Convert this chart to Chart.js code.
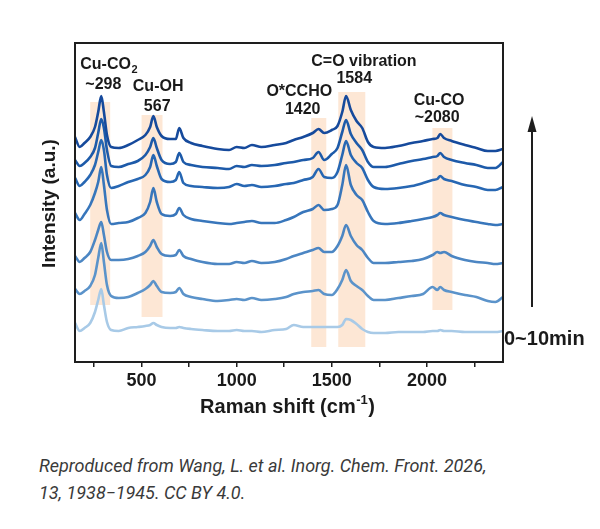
<!DOCTYPE html>
<html>
<head>
<meta charset="utf-8">
<script src="https://cdn.jsdelivr.net/npm/chart.js@4.4.1/dist/chart.umd.min.js"></script>
<style>
  html, body { margin: 0; padding: 0; background: #ffffff; }
  #wrap { position: absolute; left: 0; top: 0; width: 600px; height: 440px; }
  #caption {
    position: absolute; left: 39px; top: 452px; width: 470px;
    font-family: Roboto, "Noto Sans", sans-serif; font-style: italic;
    font-size: 18px; line-height: 27px; color: #3a3a3a;
  }
</style>
</head>
<body>
<div id="wrap"><canvas id="c" width="600" height="440"></canvas></div>
<div id="caption">Reproduced from Wang, L. et al. Inorg. Chem. Front. 2026, 13, 1938−1945. CC BY 4.0.</div>
<script>
// Raman shift grid (cm^-1)
const wavenumbers = [150,175,200,230,255,272,288,302,318,340,380,430,480,520,545,562,580,605,650,680,698,720,760,820,900,960,1000,1040,1080,1130,1200,1260,1300,1350,1400,1430,1460,1500,1530,1555,1575,1600,1630,1660,1690,1720,1780,1850,1920,1980,2030,2055,2070,2090,2130,2200,2260,2320,2360,2400];

// Intensity (a.u., stacked) from top (latest) to bottom (0 min)
const spectrum1 = [225,215,219,225,235,250,266,250,227,215, 214,217,222,227,235,246,235,226,223,223, 234,224,219,216,213,212,215,214,217,215, 217,219,222,225,229,233,229,232,236,250, 266,252,241,234,220,215,214,216,219,221, 223,224,228,224,221,217,214,211,211,213];
const spectrum2 = [202,196,199,205,214,229,243,234,212,196, 195,198,201,207,215,224,214,202,198,200, 209,200,197,195,194,193,196,195,197,196, 197,199,200,202,204,210,202,208,214,230, 242,228,219,212,200,195,195,198,201,203, 205,206,209,205,202,199,197,194,194,200];
const spectrum3 = [184,176,180,187,197,210,222,212,187,174, 176,180,183,187,195,207,196,183,180,182, 190,179,176,175,174,175,178,176,177,175, 176,178,179,182,185,193,185,184,190,207, 221,207,199,194,182,175,173,174,176,179, 182,183,186,183,181,177,175,172,172,175];
const spectrum4 = [149,142,148,157,169,180,195,177,152,138, 139,140,144,149,160,174,160,148,146,148, 154,147,143,141,139,138,139,140,141,139, 139,142,145,150,153,157,152,153,157,177, 197,177,167,162,150,141,138,139,141,143, 145,147,149,147,145,142,140,138,137,138];
const spectrum5 = [106,100,104,110,122,132,140,127,110,102, 102,103,106,110,116,122,115,108,106,107, 112,106,103,100,98,98,100,99,101,99, 100,103,106,109,112,114,110,110,116,126, 137,126,117,112,104,99,99,100,101,103, 107,110,109,110,106,102,100,99,98,99];
const spectrum6 = [73,68,71,76,87,104,119,100,77,66, 64,65,69,73,77,81,76,70,69,70, 74,68,65,63,61,62,63,62,64,62, 63,65,68,70,71,72,68,67,73,82, 92,81,76,72,66,62,62,64,66,68, 75,72,75,72,70,67,65,61,60,65];
const spectrum7 = [39,31,34,39,50,62,73,57,40,32, 31,34,35,36,37,39,37,35,34,34, 35,34,33,32,31,31,32,31,31,30, 32,33,37,35,35,35,35,35,35,37, 43,42,38,33,30,29,29,30,30,30, 31,31,32,31,31,30,30,30,30,31];

// x-axis ticks
const tickValues = [250,500,750,1000,1250,1500,1750,2000,2250];
const tickLabels = ['', '500', '', '1000', '', '1500', '', '2000', ''];

// highlighted band ranges (cm^-1) and vertical extents (a.u.)
const bandStart = [230, 500, 1392, 1534, 2029];
const bandEnd   = [335, 610, 1471, 1676, 2134];
const bandLow   = [57, 45, 15, 15, 52];
const bandHigh  = [260, 247, 244, 270, 234];

// peak annotations
const peakText = ['Cu-CO', '~298', 'Cu-OH', '567', 'O*CCHO', '1420', 'C=O vibration', '1584', 'Cu-CO', '~2080'];
const peakSub  = ['2', '', '', '', '', '', '', '', '', ''];
const peakX    = [327, 299, 587, 582, 1329, 1347, 1669, 1618, 2064, 2054];
const peakY    = [297, 277, 275, 255, 270, 252, 300, 283, 261, 244];

const series = [spectrum1, spectrum2, spectrum3, spectrum4, spectrum5, spectrum6, spectrum7];
const colors = ['#164a9c', '#1d5aa9', '#2767b3', '#3876bb', '#4c86c3', '#5b93ca', '#a8cae7'];

const datasets = series.map((s, i) => ({
  data: s.map((v, k) => ({ x: wavenumbers[k], y: v })),
  borderColor: colors[i],
  borderWidth: 2.6,
  pointRadius: 0,
  cubicInterpolationMode: 'monotone',
  fill: false
}));

const FONT = '"Liberation Sans", Arial, sans-serif';

const decor = {
  id: 'decor',
  beforeDatasetsDraw(chart) {
    const { ctx, scales: { x, y } } = chart;
    ctx.save();
    ctx.fillStyle = '#fde7d5';
    for (let i = 0; i < bandStart.length; i++) {
      const x0 = x.getPixelForValue(bandStart[i]);
      const x1 = x.getPixelForValue(bandEnd[i]);
      const y0 = y.getPixelForValue(bandHigh[i]);
      const y1 = y.getPixelForValue(bandLow[i]);
      ctx.fillRect(x0, y0, x1 - x0, y1 - y0);
    }
    ctx.restore();
  },
  afterDraw(chart) {
    const { ctx, chartArea: a, scales: { x, y } } = chart;
    ctx.save();
    // frame
    ctx.strokeStyle = '#1e1e1e';
    ctx.lineWidth = 2;
    ctx.strokeRect(a.left, a.top, a.right - a.left, a.bottom - a.top);

    // peak labels
    ctx.fillStyle = '#1a1a1a';
    ctx.textBaseline = 'middle';
    for (let i = 0; i < peakText.length; i++) {
      const cx = x.getPixelForValue(peakX[i]);
      const cy = y.getPixelForValue(peakY[i]);
      ctx.font = 'bold 16px ' + FONT;
      const w = ctx.measureText(peakText[i]).width;
      let ws = 0;
      if (peakSub[i]) { ctx.font = 'bold 11px ' + FONT; ws = ctx.measureText(peakSub[i]).width; }
      const start = cx - (w + ws) / 2;
      ctx.textAlign = 'left';
      ctx.font = 'bold 16px ' + FONT;
      ctx.fillText(peakText[i], start, cy);
      if (peakSub[i]) { ctx.font = 'bold 11px ' + FONT; ctx.fillText(peakSub[i], start + w + 0.5, cy + 5); }
    }

    // y title
    ctx.save();
    ctx.translate(a.left - 25, (a.top + a.bottom) / 2 + 1);
    ctx.rotate(-Math.PI / 2);
    ctx.textAlign = 'center';
    ctx.font = 'bold 19px ' + FONT;
    ctx.fillText('Intensity (a.u.)', 0, 0);
    ctx.restore();

    // x title with superscript
    const main = 'Raman shift (cm', sup = '-1', tail = ')';
    ctx.font = 'bold 20px ' + FONT;
    const wm = ctx.measureText(main).width, wt = ctx.measureText(tail).width;
    ctx.font = 'bold 13px ' + FONT;
    const wsup = ctx.measureText(sup).width;
    let sx = (a.left + a.right) / 2 - 2 - (wm + wsup + wt) / 2;
    const ty = a.bottom + 45;
    ctx.textAlign = 'left';
    ctx.font = 'bold 20px ' + FONT;
    ctx.fillText(main, sx, ty);
    ctx.font = 'bold 13px ' + FONT;
    ctx.fillText(sup, sx + wm + 0.5, ty - 7);
    ctx.font = 'bold 20px ' + FONT;
    ctx.fillText(tail, sx + wm + wsup + 1, ty);

    // time label and arrow
    ctx.font = 'bold 20px ' + FONT;
    ctx.fillText('0~10min', a.right + 1, a.bottom - 23);
    const ax = a.right + 29;
    ctx.strokeStyle = '#1e1e1e';
    ctx.lineWidth = 2;
    ctx.beginPath();
    ctx.moveTo(ax, a.bottom - 55);
    ctx.lineTo(ax, a.top + 85);
    ctx.stroke();
    ctx.fillStyle = '#1e1e1e';
    ctx.beginPath();
    ctx.moveTo(ax, a.top + 73);
    ctx.lineTo(ax - 4.5, a.top + 89);
    ctx.lineTo(ax + 4.5, a.top + 89);
    ctx.closePath();
    ctx.fill();
    ctx.restore();
  }
};

new Chart(document.getElementById('c'), {
  type: 'line',
  data: { datasets },
  plugins: [decor],
  options: {
    responsive: false,
    animation: false,
    layout: { padding: { left: 75, right: 97, top: 43, bottom: 48 } },
    plugins: { legend: { display: false }, tooltip: { enabled: false } },
    scales: {
      x: {
        type: 'linear',
        min: 150, max: 2400,
        afterBuildTicks: (s) => { s.ticks = tickValues.map(v => ({ value: v })); },
        afterFit: (s) => { s.height = 30; },
        grid: { drawOnChartArea: false, drawTicks: true, tickLength: 5, color: '#1e1e1e', lineWidth: 1.5 },
        border: { display: true, color: '#1e1e1e', width: 2 },
        ticks: {
          autoSkip: false, maxRotation: 0, padding: 3, color: '#1a1a1a',
          font: { family: FONT, size: 18, weight: 'bold' },
          callback: (v) => { const i = tickValues.indexOf(v); return i >= 0 ? tickLabels[i] : ''; }
        }
      },
      y: { display: false, min: 0, max: 319 }
    }
  }
});
</script>
</body>
</html>
